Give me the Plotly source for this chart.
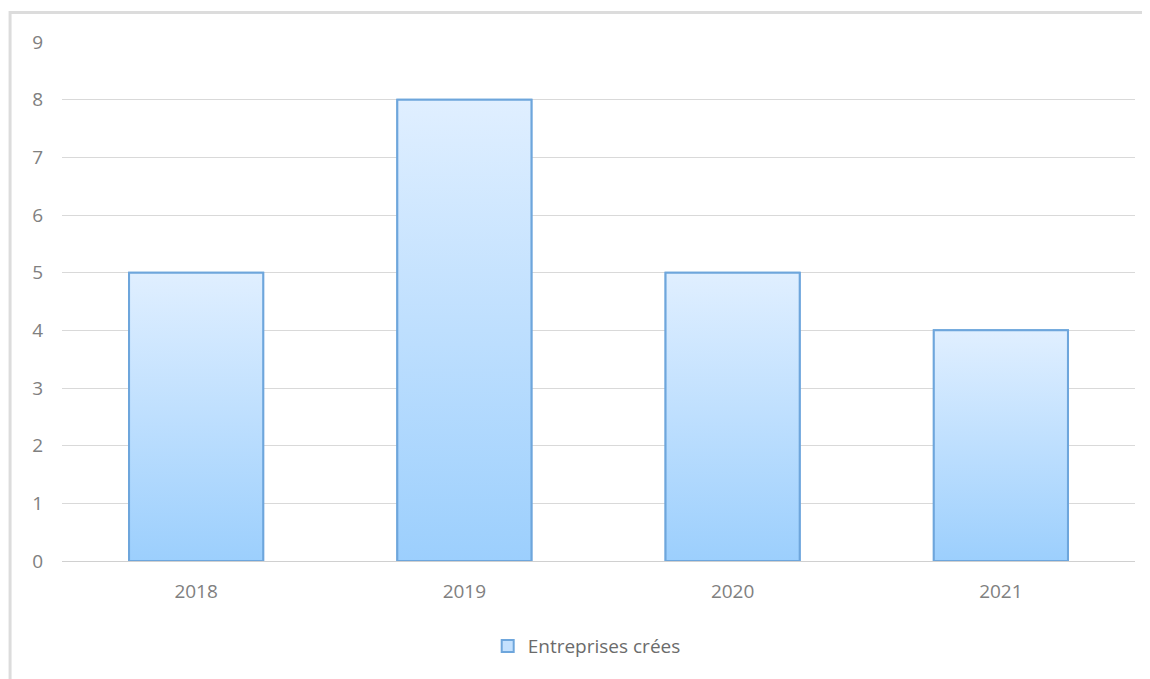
import plotly.graph_objects as go

categories = ["2018", "2019", "2020", "2021"]
values = [5, 8, 5, 4]
series_name = "Entreprises crées"
y_ticks = [0, 1, 2, 3, 4, 5, 6, 7, 8, 9]

BAR_W = 0.5
EDGE = "#6ea6dc"
TOP = "#e0efff"
BOTTOM = "#9ccffd"

positions = list(range(len(categories)))

fig = go.Figure()

# base bar trace (provides the legend entry and the bar layout)
fig.add_trace(go.Bar(
    x=positions, y=values, width=BAR_W, name=series_name,
    marker=dict(color="#c4e1fe", line=dict(color=EDGE, width=2)),
    hoverinfo="skip",
))

# gradient overlay for each bar, derived from the same data
for i, v in zip(positions, values):
    x0, x1 = i - BAR_W / 2, i + BAR_W / 2
    fig.add_trace(go.Scatter(
        x=[x0, x1, x1, x0, x0], y=[0, 0, v, v, 0],
        mode="lines", fill="toself",
        fillgradient=dict(type="vertical",
                          colorscale=[[0, BOTTOM], [1, TOP]]),
        line=dict(color=EDGE, width=2),
        showlegend=False, hoverinfo="skip",
    ))

# the page body has an 8px margin, so the figure is sized/offset to compensate
fig.update_layout(
    width=1142, height=671,
    paper_bgcolor="white", plot_bgcolor="white",
    margin=dict(l=54, r=15, t=34, b=118),
    font=dict(family="Open Sans, Liberation Sans, sans-serif", color="#808080"),
    showlegend=True,
    legend=dict(orientation="h", x=0.489, xanchor="center", y=-0.164, yanchor="middle",
                font=dict(size=19, color="#6b6b6b"), itemwidth=30),
    xaxis=dict(range=[-0.5, len(categories) - 0.5], tickvals=positions, ticktext=categories,
               showgrid=False, zeroline=False, showline=False, ticks="",
               tickfont=dict(size=19, color="#808080"), ticklabelstandoff=17,
               fixedrange=True),
    yaxis=dict(range=[0, 9], tickvals=y_ticks, showgrid=True, gridcolor="#d9d9d9", gridwidth=1,
               zeroline=True, zerolinecolor="#d0d0d0", zerolinewidth=1, showline=False, ticks="",
               tickfont=dict(size=19, color="#808080"), ticklabelstandoff=18,
               fixedrange=True),
    shapes=[dict(type="rect", xref="paper", yref="paper",
                 x0=-0.0484, x1=1.05, y0=-0.25, y1=1.057,
                 line=dict(color="#dcdcdc", width=3), layer="below")],
)

fig.write_html("out.html")
